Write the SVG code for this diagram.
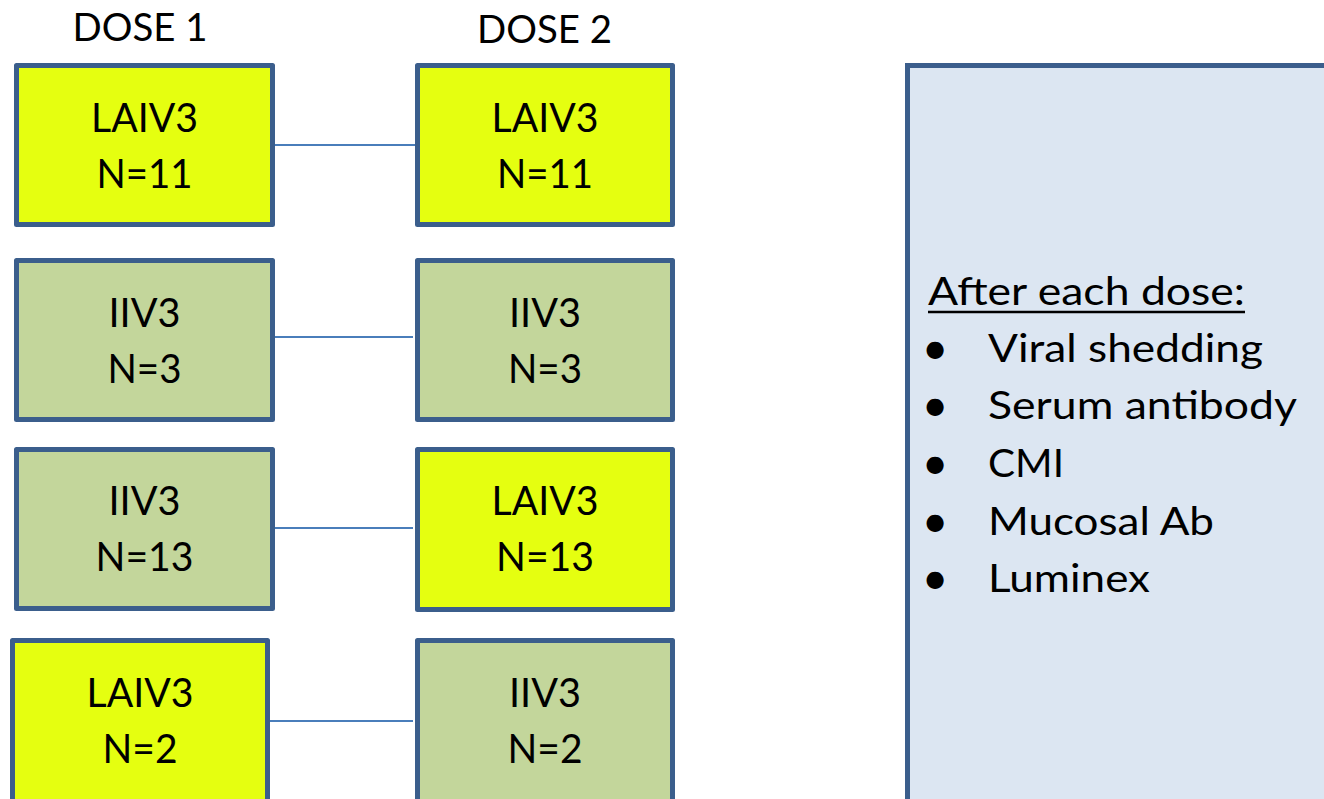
<svg xmlns="http://www.w3.org/2000/svg" width="1324" height="799" viewBox="0 0 1324 799">
  <style>
    .box { stroke: #3b5e8c; stroke-width: 5; stroke-linejoin: round; }
    .laiv { fill: #e5ff10; }
    .iiv { fill: #c3d69b; }
    .panel { fill: #dce6f2; stroke: #3b5e8c; stroke-width: 5; }
    .lbl { font-family: Lato, "Liberation Sans", sans-serif; font-size: 40px; fill: #000; text-anchor: middle; }
    .head { font-family: Lato, "Liberation Sans", sans-serif; font-size: 38px; fill: #000; text-anchor: middle; }
    .list { font-family: Lato, "Liberation Sans", sans-serif; font-size: 39px; fill: #000; }
    .dot { font-family: Lato, "Liberation Sans", sans-serif; font-size: 46px; fill: #000; text-anchor: middle; }
    .link { stroke: #4a7ebb; stroke-width: 2; fill: none; }
  </style>

  <!-- column headings -->
  <text class="head" x="140" y="41" textLength="135" lengthAdjust="spacingAndGlyphs">DOSE 1</text>
  <text class="head" x="544.5" y="43" textLength="135" lengthAdjust="spacingAndGlyphs">DOSE 2</text>

  <!-- connectors between the two doses -->
  <g id="connectors">
    <line class="link" x1="274" y1="145" x2="415" y2="145"/>
    <line class="link" x1="268" y1="337" x2="413" y2="337"/>
    <line class="link" x1="268" y1="528" x2="413" y2="528"/>
    <line class="link" x1="270" y1="721" x2="413" y2="721"/>
  </g>

  <!-- row 1 -->
  <g id="d1-laiv3-11">
    <rect class="box laiv" x="16.5" y="65.5" width="256" height="159"/>
    <text class="lbl" x="144.5" y="132" textLength="107" lengthAdjust="spacingAndGlyphs">LAIV3</text>
    <text class="lbl" x="144.5" y="188" textLength="96" lengthAdjust="spacingAndGlyphs">N=11</text>
  </g>
  <g id="d2-laiv3-11">
    <rect class="box laiv" x="417.5" y="65.5" width="255" height="159"/>
    <text class="lbl" x="545" y="132" textLength="107" lengthAdjust="spacingAndGlyphs">LAIV3</text>
    <text class="lbl" x="545" y="188" textLength="96" lengthAdjust="spacingAndGlyphs">N=11</text>
  </g>

  <!-- row 2 -->
  <g id="d1-iiv3-3">
    <rect class="box iiv" x="16.5" y="260.5" width="256" height="159"/>
    <text class="lbl" x="144.5" y="327" textLength="72" lengthAdjust="spacingAndGlyphs">IIV3</text>
    <text class="lbl" x="144.5" y="383" textLength="74" lengthAdjust="spacingAndGlyphs">N=3</text>
  </g>
  <g id="d2-iiv3-3">
    <rect class="box iiv" x="417.5" y="260.5" width="255" height="159"/>
    <text class="lbl" x="545" y="327" textLength="72" lengthAdjust="spacingAndGlyphs">IIV3</text>
    <text class="lbl" x="545" y="383" textLength="74" lengthAdjust="spacingAndGlyphs">N=3</text>
  </g>

  <!-- row 3 -->
  <g id="d1-iiv3-13">
    <rect class="box iiv" x="16.5" y="449.5" width="256" height="159"/>
    <text class="lbl" x="144.5" y="515" textLength="72" lengthAdjust="spacingAndGlyphs">IIV3</text>
    <text class="lbl" x="144.5" y="571" textLength="98" lengthAdjust="spacingAndGlyphs">N=13</text>
  </g>
  <g id="d2-laiv3-13">
    <rect class="box laiv" x="417.5" y="449.5" width="255" height="160"/>
    <text class="lbl" x="545" y="515" textLength="107" lengthAdjust="spacingAndGlyphs">LAIV3</text>
    <text class="lbl" x="545" y="571" textLength="98" lengthAdjust="spacingAndGlyphs">N=13</text>
  </g>

  <!-- row 4 -->
  <g id="d1-laiv3-2">
    <rect class="box laiv" x="12.5" y="640.5" width="255" height="170"/>
    <text class="lbl" x="140" y="707" textLength="107" lengthAdjust="spacingAndGlyphs">LAIV3</text>
    <text class="lbl" x="140" y="763" textLength="75" lengthAdjust="spacingAndGlyphs">N=2</text>
  </g>
  <g id="d2-iiv3-2">
    <rect class="box iiv" x="417.5" y="640.5" width="255" height="170"/>
    <text class="lbl" x="545" y="707" textLength="72" lengthAdjust="spacingAndGlyphs">IIV3</text>
    <text class="lbl" x="545" y="763" textLength="75" lengthAdjust="spacingAndGlyphs">N=2</text>
  </g>

  <!-- assays panel -->
  <g id="assays">
    <rect class="panel" x="907.5" y="65.5" width="430" height="750"/>
    <text class="list" x="928" y="305" textLength="317" lengthAdjust="spacingAndGlyphs">After each dose:</text>
    <line x1="928" y1="312" x2="1245" y2="312" stroke="#000" stroke-width="2.5"/>
    <g class="dot">
      <text x="935" y="364">•</text>
      <text x="935" y="421">•</text>
      <text x="935" y="479">•</text>
      <text x="935" y="537">•</text>
      <text x="935" y="594">•</text>
    </g>
    <g class="list">
      <text x="988" y="362" textLength="275" lengthAdjust="spacingAndGlyphs">Viral shedding</text>
      <text x="988" y="419" textLength="309" lengthAdjust="spacingAndGlyphs">Serum antibody</text>
      <text x="988" y="477" textLength="76" lengthAdjust="spacingAndGlyphs">CMI</text>
      <text x="988" y="535" textLength="226" lengthAdjust="spacingAndGlyphs">Mucosal Ab</text>
      <text x="988" y="592" textLength="162" lengthAdjust="spacingAndGlyphs">Luminex</text>
    </g>
  </g>
</svg>
